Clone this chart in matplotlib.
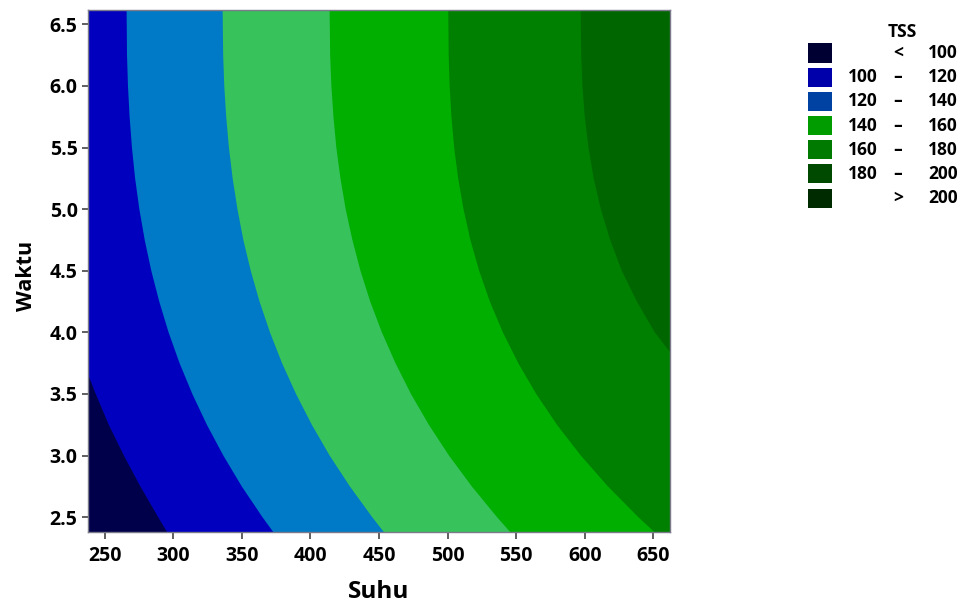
import matplotlib
matplotlib.use("Agg")
import matplotlib.pyplot as plt
from matplotlib.patches import Rectangle

plt.rcParams['font.family'] = ['Open Sans', 'DejaVu Sans']

# Experimental region (central composite design, alpha = 1.414)
suhu_range = [237.87, 662.13]
waktu_range = [2.379, 6.621]

# TSS contour levels
levels = [100, 120, 140, 160, 180, 200]

# Contour boundaries of the fitted TSS surface (Suhu position for each Waktu)
waktu_grid = [6.621, 6.25, 6.0, 5.75, 5.5, 5.25, 5.0, 4.75, 4.5,
              4.25, 4.0, 3.75, 3.5, 3.25, 3.0, 2.75, 2.5, 2.379]

tss100_waktu = [3.66, 3.5, 3.25, 3.0, 2.75, 2.5, 2.379]
tss100_suhu = [237.87, 243.5, 253.0, 264.0, 276.0, 289.0, 295.5]

tss120_suhu = [266.0, 266.3, 267.0, 268.2, 269.9, 272.2, 275.3, 279.2, 284.0,
               289.8, 296.6, 304.6, 313.9, 324.5, 336.5, 349.9, 365.0, 372.9]
tss140_suhu = [336.0, 336.4, 337.2, 338.6, 340.6, 343.3, 346.8, 351.1, 356.5,
               362.9, 370.5, 379.3, 389.5, 401.0, 414.0, 428.7, 445.0, 453.5]
tss160_suhu = [414.0, 414.4, 415.3, 416.8, 418.9, 421.9, 425.7, 430.6, 436.5,
               443.6, 452.1, 462.0, 473.3, 486.3, 501.0, 517.6, 536.0, 545.6]
tss180_suhu = [500.5, 500.8, 501.5, 502.8, 504.8, 507.7, 511.6, 516.6, 523.0,
               530.8, 540.3, 551.5, 564.6, 579.7, 597.1, 616.8, 639.0, 650.7]

tss200_waktu = [6.621, 6.25, 6.0, 5.75, 5.5, 5.25, 5.0, 4.75, 4.5, 4.25, 4.0, 3.84]
tss200_suhu = [597.0, 597.4, 598.3, 600.0, 602.7, 606.5, 611.7, 618.5, 627.0,
               638.0, 651.0, 662.13]

boundaries = [
    (tss100_suhu, tss100_waktu),
    (tss120_suhu, waktu_grid),
    (tss140_suhu, waktu_grid),
    (tss160_suhu, waktu_grid),
    (tss180_suhu, waktu_grid),
    (tss200_suhu, tss200_waktu),
]

# Fill colours of the bands (< 100 ... > 200)
band_colors = ['#00004A', '#0000BE', '#0079C6', '#37C25B', '#00AF00', '#008000', '#006600']
# Swatch colours of the legend key
key_colors = ['#000032', '#0000AA', '#0042A2', '#009C00', '#007A00', '#004A00', '#002A00']
key_lo = ['', '100', '120', '140', '160', '180', '']
key_sep = ['<', '\u2013', '\u2013', '\u2013', '\u2013', '\u2013', '>']
key_hi = ['100', '120', '140', '160', '180', '200', '200']

W, H = 966, 605
fig = plt.figure(figsize=(W / 100, H / 100), dpi=100)
ax = fig.add_axes([88 / W, 1 - 532 / H, 582 / W, 522.5 / H])

ax.set_xlim(suhu_range)
ax.set_ylim(waktu_range)
ax.set_facecolor(band_colors[-1])

# paint the region below each level, highest level first
x0 = suhu_range[0] - 20
y0 = waktu_range[0] - 0.2
for (xs, ys), col in reversed(list(zip(boundaries, band_colors[:-1]))):
    px = list(xs) + [xs[-1], x0, x0]
    py = list(ys) + [y0, y0, ys[0]]
    ax.fill(px, py, color=col, lw=0)

ax.set_xticks([250, 300, 350, 400, 450, 500, 550, 600, 650])
ax.set_yticks([2.5, 3.0, 3.5, 4.0, 4.5, 5.0, 5.5, 6.0, 6.5])
ax.set_yticklabels(['2.5', '3.0', '3.5', '4.0', '4.5', '5.0', '5.5', '6.0', '6.5'])
for s in ax.spines.values():
    s.set_color('#7a7a8a')
    s.set_linewidth(1.0)
ax.tick_params(axis='x', direction='out', length=5, width=1.2, color='#444444',
               pad=5, labelsize=14)
ax.tick_params(axis='y', direction='out', length=4, width=1.2, color='#444444',
               pad=3.5, labelsize=14)
for lab in ax.get_xticklabels() + ax.get_yticklabels():
    lab.set_fontweight('bold')

ax.set_xlabel('Suhu', fontsize=17.5, fontweight='bold', va='baseline')
ax.xaxis.set_label_coords(0.5, (532 - 598) / 522.5)
ax.set_ylabel('Waktu', fontsize=15.5, fontweight='bold', va='baseline',
              rotation_mode='anchor')
ax.yaxis.set_label_coords((32 - 88) / 582, (532 - 276) / 522.5)

# legend key
def fx(p):
    return p / W

def fy(p):
    return 1 - p / H

key_fs = 12.5
fig.text(fx(902), fy(32), 'TSS', ha='center', va='center', fontsize=key_fs, fontweight='bold')
for i in range(len(key_colors)):
    cy = 53 + 24.2 * i
    fig.add_artist(Rectangle((fx(808), fy(cy + 9.5)), 24 / W, 19 / H,
                             transform=fig.transFigure, facecolor=key_colors[i],
                             edgecolor='none'))
    if key_lo[i]:
        fig.text(fx(848), fy(cy), key_lo[i], ha='left', va='center',
                 fontsize=key_fs, fontweight='bold')
    fig.text(fx(898), fy(cy), key_sep[i], ha='center', va='center',
             fontsize=key_fs, fontweight='bold')
    fig.text(fx(958), fy(cy), key_hi[i], ha='right', va='center',
             fontsize=key_fs, fontweight='bold')

fig.savefig('out.png', dpi=100)
